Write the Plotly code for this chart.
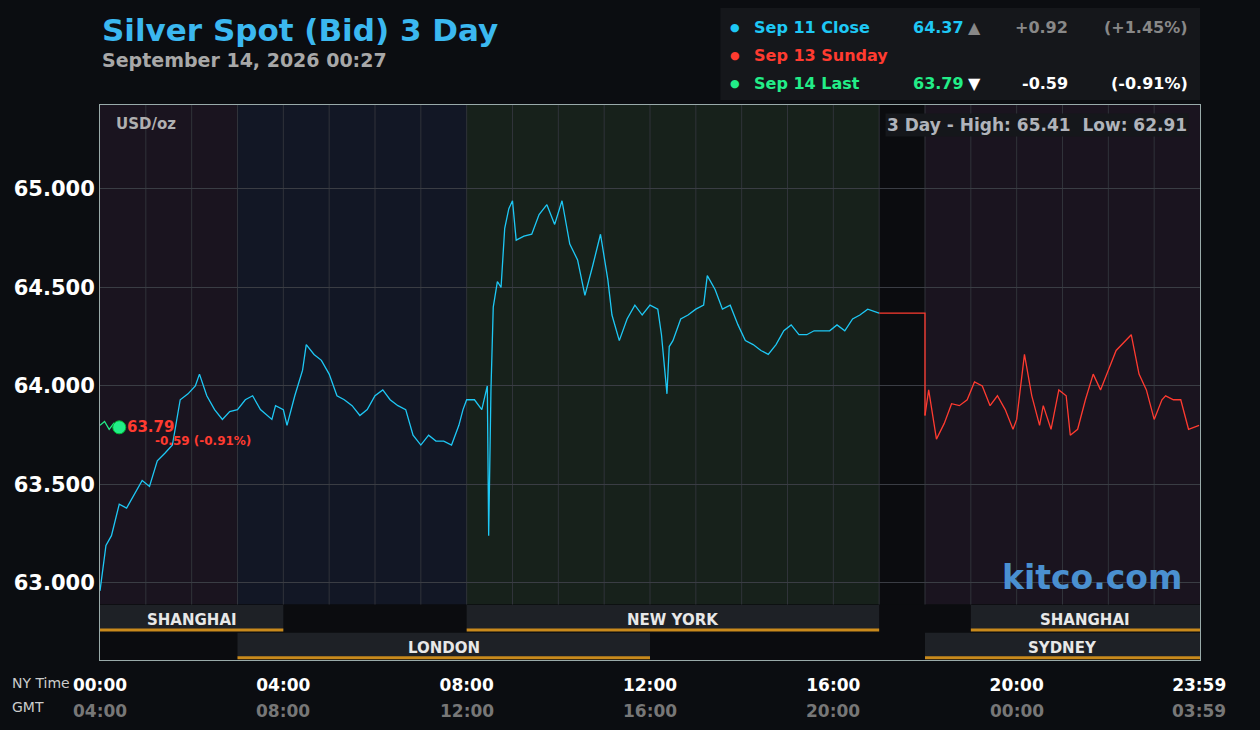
import plotly.graph_objects as go

# NY time in hours, prices
sep11_t = [0, 0.13, 0.25, 0.42, 0.58, 0.75, 0.92, 1.08, 1.25, 1.42, 1.58, 1.75, 1.92, 2.08, 2.17,
           2.33, 2.5, 2.67, 2.83, 3.0, 3.17, 3.33, 3.5, 3.75, 3.83, 4.0, 4.08, 4.25, 4.42, 4.5,
           4.67, 4.83, 5.0, 5.17, 5.33, 5.5, 5.67, 5.83, 6.0, 6.17, 6.33, 6.5, 6.67, 6.83, 7.0,
           7.17, 7.33, 7.5, 7.67, 7.83, 7.92, 8.0, 8.17, 8.33, 8.45, 8.48, 8.53, 8.58, 8.67, 8.75,
           8.83, 8.92, 9.0, 9.08, 9.25, 9.42, 9.58, 9.75, 9.92, 10.08, 10.17, 10.25, 10.42, 10.5,
           10.58, 10.75, 10.92, 11.08, 11.17, 11.33, 11.5, 11.67, 11.83, 12.0, 12.17, 12.25, 12.37,
           12.42, 12.5, 12.67, 12.83, 13.0, 13.17, 13.25, 13.42, 13.58, 13.75, 13.92, 14.08, 14.25,
           14.42, 14.58, 14.75, 14.92, 15.08, 15.25, 15.42, 15.58, 15.75, 15.92, 16.08, 16.25,
           16.42, 16.58, 16.75, 17.0]
sep11_p = [62.96, 63.19, 63.24, 63.40, 63.38, 63.45, 63.52, 63.49, 63.62, 63.66, 63.70, 63.93,
           63.96, 64.00, 64.06, 63.95, 63.88, 63.83, 63.87, 63.88, 63.93, 63.95, 63.88, 63.83,
           63.90, 63.88, 63.80, 63.95, 64.08, 64.21, 64.16, 64.13, 64.06, 63.95, 63.93, 63.90,
           63.85, 63.88, 63.95, 63.98, 63.93, 63.90, 63.88, 63.75, 63.70, 63.75, 63.72, 63.72,
           63.70, 63.80, 63.88, 63.93, 63.93, 63.88, 64.00, 63.24, 63.98, 64.40, 64.53, 64.50,
           64.80, 64.90, 64.94, 64.74, 64.76, 64.77, 64.87, 64.92, 64.82, 64.94, 64.82, 64.72,
           64.64, 64.54, 64.46, 64.61, 64.77, 64.54, 64.36, 64.23, 64.34, 64.41, 64.36, 64.41,
           64.39, 64.26, 63.96, 64.20, 64.23, 64.34, 64.36, 64.39, 64.41, 64.56, 64.49, 64.39,
           64.41, 64.31, 64.23, 64.21, 64.18, 64.16, 64.21, 64.28, 64.31, 64.26, 64.26, 64.28,
           64.28, 64.28, 64.31, 64.28, 64.34, 64.36, 64.39, 64.37]

sunday_t = [17.0, 18.0, 18.0]
sunday_p = [64.37, 64.37, 63.85]

sep14_t = [18.0, 18.08, 18.25, 18.42, 18.58, 18.75, 18.92, 19.08, 19.25, 19.42, 19.58, 19.75,
           19.92, 20.0, 20.17, 20.33, 20.5, 20.58, 20.75, 20.92, 21.08, 21.17, 21.33, 21.5,
           21.67, 21.83, 22.0, 22.17, 22.5, 22.67, 22.83, 23.0, 23.17, 23.25, 23.42, 23.58,
           23.75, 23.98]
sep14_p = [63.85, 63.98, 63.73, 63.81, 63.91, 63.90, 63.93, 64.02, 64.00, 63.90, 63.95, 63.88,
           63.78, 63.83, 64.16, 63.95, 63.80, 63.90, 63.78, 63.98, 63.95, 63.75, 63.78, 63.93,
           64.06, 63.98, 64.08, 64.18, 64.26, 64.06, 63.98, 63.83, 63.93, 63.95, 63.93, 63.93,
           63.78, 63.80]

last_t = [0, 0.1, 0.2, 0.3, 0.42]
last_p = [63.80, 63.82, 63.78, 63.81, 63.79]

x_ticks = [0, 4, 8, 12, 16, 20, 23.983]
ny_labels = ["00:00", "04:00", "08:00", "12:00", "16:00", "20:00", "23:59"]
gmt_labels = ["04:00", "08:00", "12:00", "16:00", "20:00", "00:00", "03:59"]

# (start, end, color) background zones
zones = [(0, 3, "#1a141f"), (3, 8, "#121725"), (8, 17, "#17211b"), (17, 18, "#0b0c0f"), (18, 24, "#1a141f")]
# (start, end, row, label)
sessions = [(0, 4, 1, "SHANGHAI"), (8, 17, 1, "NEW YORK"), (19, 24, 1, "SHANGHAI"),
            (3, 12, 2, "LONDON"), (18, 24, 2, "SYDNEY")]

fig = go.Figure()
fig.add_trace(go.Scatter(x=sep11_t, y=sep11_p, mode="lines", line=dict(color="#1ec8f5", width=1.3)))
fig.add_trace(go.Scatter(x=sunday_t, y=sunday_p, mode="lines", line=dict(color="#ff3b30", width=1.3)))
fig.add_trace(go.Scatter(x=sep14_t, y=sep14_p, mode="lines", line=dict(color="#ff3b30", width=1.3)))
fig.add_trace(go.Scatter(x=last_t, y=last_p, mode="lines", line=dict(color="#22ee88", width=1.3)))
fig.add_trace(go.Scatter(x=[last_t[-1]], y=[last_p[-1]], mode="markers",
                         marker=dict(color="#22ee88", size=13, line=dict(color="#0b3", width=1))))

for a, b, c in zones:
    fig.add_shape(type="rect", x0=a, x1=b, yref="paper", y0=0.1, y1=1, fillcolor=c,
                  line_width=0, layer="below")
fig.add_shape(type="rect", x0=0, x1=24, yref="paper", y0=0, y1=0.1, fillcolor="#0b0c0f",
              line_width=0, layer="below")
# hourly vertical grid
for h in range(1, 24):
    fig.add_shape(type="line", x0=h, x1=h, yref="paper", y0=0.1, y1=1,
                  line=dict(color="#30333a", width=1), layer="below")

rows = {1: (0.054, 0.099), 2: (0.004, 0.049)}
for a, b, r, lab in sessions:
    y0, y1 = rows[r]
    fig.add_shape(type="rect", x0=a, x1=b, yref="paper", y0=y0, y1=y1, fillcolor="#1e2126",
                  line_width=0)
    fig.add_shape(type="line", x0=a, x1=b, yref="paper", y0=y0, y1=y0,
                  line=dict(color="#c98a1c", width=3))
    fig.add_annotation(x=(a + b) / 2, y=(y0 + y1) / 2 - 0.005, yref="paper", yanchor="middle",
                       text=f"<b>{lab}</b>", showarrow=False, font=dict(color="#e8e8e8", size=15))

ann = lambda **k: fig.add_annotation(showarrow=False, **k)
ann(x=0, xref="paper", y=1.135, yref="paper", xanchor="left", yanchor="middle",
    text="<b>Silver Spot (Bid) 3 Day</b>", font=dict(color="#3bb8f0", size=31))
ann(x=0, xref="paper", y=1.081, yref="paper", xanchor="left", yanchor="middle",
    text="<b>September 14, 2026 00:27</b>", font=dict(color="#a8a8a8", size=19))
ann(x=0.013, xref="paper", y=0.985, yref="paper", xanchor="left", yanchor="top",
    text="<b>USD/oz</b>", font=dict(color="#b0b0b0", size=15))
ann(x=0.99, xref="paper", y=0.985, yref="paper", xanchor="right", yanchor="top",
    text="<b>3 Day - High: 65.41  Low: 62.91</b>", font=dict(color="#b0b4bb", size=17),
    bgcolor="#15171b")
ann(x=0.985, xref="paper", y=0.11, yref="paper", xanchor="right", yanchor="bottom",
    text="<b>kitco.com</b>", font=dict(color="#4a90d0", size=33))
ann(x=0.55, y=63.79, xanchor="left", text="<b>63.79</b>", font=dict(color="#ff3b30", size=15))
ann(x=1.15, y=63.72, xanchor="left", text="<b>-0.59 (-0.91%)</b>", font=dict(color="#ff3b30", size=12))

# legend box
fig.add_shape(type="rect", xref="paper", yref="paper", x0=0.564, x1=1, y0=1.009, y1=1.175,
              fillcolor="#15171b", line_width=0)
legend_rows = [("Sep 11 Close", "64.37", "▲", "+0.92", "(+1.45%)", "#1ec8f5", "#888"),
               ("Sep 13 Sunday", "", "", "", "", "#ff3b30", "#888"),
               ("Sep 14 Last", "63.79", "▼", "-0.59", "(-0.91%)", "#22ee88", "#fff")]
for i, (lab, val, arr, ch, pct, col, tcol) in enumerate(legend_rows):
    yy = 1.139 - i * 0.0505
    ln = dict(xref="paper", y=yy, yref="paper", yanchor="middle")
    ann(x=0.577, text="●", font=dict(color=col, size=11), **ln)
    ann(x=0.593, xanchor="left", text=f"<b>{lab}</b>", font=dict(color=col, size=16), **ln)
    if val:
        ann(x=0.737, xanchor="left", text=f"<b>{val}</b>", font=dict(color=col, size=16), **ln)
        ann(x=0.803, text=f"<b>{arr}</b>", font=dict(color=tcol, size=16), **ln)
        ann(x=0.882, xanchor="right", text=f"<b>{ch}</b>", font=dict(color=tcol, size=16), **ln)
        ann(x=0.991, xanchor="right", text=f"<b>{pct}</b>", font=dict(color=tcol, size=16), **ln)

ann(x=-0.082, xref="paper", y=-0.041, yref="paper", xanchor="left", yanchor="middle",
    text="NY Time", font=dict(color="#ccc", size=14))
ann(x=-0.082, xref="paper", y=-0.085, yref="paper", xanchor="left", yanchor="middle",
    text="GMT", font=dict(color="#ccc", size=14))
for t, g in zip(x_ticks, gmt_labels):
    ann(x=t, y=-0.092, yref="paper", yanchor="middle", text=f"<b>{g}</b>",
        font=dict(color="#777", size=17))

fig.update_layout(
    width=1260, height=730, showlegend=False,
    margin=dict(l=100, r=60, t=105, b=70),
    paper_bgcolor="#0b0d11", plot_bgcolor="#0b0d11",
    font=dict(family="DejaVu Sans", color="#fff"),
    xaxis=dict(range=[0, 24], tickvals=x_ticks, tickmode="array", ticktext=ny_labels,
               tickfont=dict(size=17, weight="bold"), showgrid=False,
               ticks="outside", ticklen=10, tickcolor="rgba(0,0,0,0)",
               showline=True, linecolor="#9aa", mirror=True, zeroline=False),
    yaxis=dict(range=[62.609, 65.426], tickvals=[63, 63.5, 64, 64.5, 65], tickformat=".3f",
               tickfont=dict(size=21, weight="bold"), gridcolor="#3a3d44",
               showline=True, linecolor="#9aa", mirror=True, zeroline=False),
)
fig.write_html("out.html", config={"displayModeBar": False},
               post_script="document.body.style.margin='0';document.body.style.background='#0b0d11';")
